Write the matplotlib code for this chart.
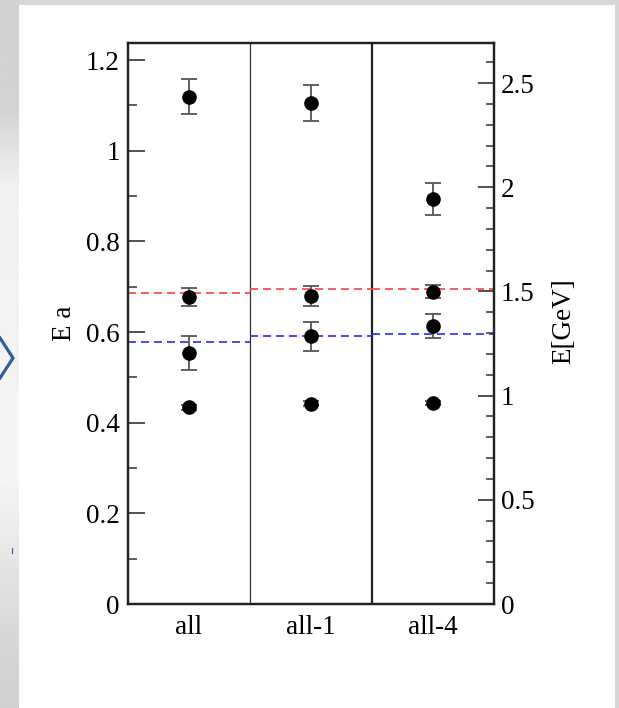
import numpy as np
import matplotlib
matplotlib.use("Agg")
import matplotlib.pyplot as plt
from matplotlib.lines import Line2D
from matplotlib.patches import Rectangle
from matplotlib.ticker import MultipleLocator

# ---------------- data ----------------
categories = ["all", "all-1", "all-4"]
cat_pos = [0.5, 1.5, 2.5]

level1 = [0.434, 0.442, 0.443]
level1_err = [0.005, 0.005, 0.005]
level2 = [0.554, 0.591, 0.613]
level2_err = [0.038, 0.032, 0.026]
level3 = [0.678, 0.679, 0.689]
level3_err = [0.020, 0.022, 0.015]
level4 = [1.119, 1.105, 0.893]
level4_err = [0.039, 0.040, 0.035]

red_ref = [0.687, 0.694, 0.696]
blue_ref = [0.578, 0.591, 0.596]

left_ticks = [0, 0.2, 0.4, 0.6, 0.8, 1.0, 1.2]
left_ticklabels = ["0", "0.2", "0.4", "0.6", "0.8", "1", "1.2"]
right_ticks = [0, 0.5, 1.0, 1.5, 2.0, 2.5]
right_ticklabels = ["0", "0.5", "1", "1.5", "2", "2.5"]

left_ylim = (0, 1.2376)
right_ylim = (0, 2.692)

# ---------------- figure ----------------
W, H = 619, 708
fig = plt.figure(figsize=(W / 100, H / 100), dpi=100)
fig.patch.set_facecolor("#d6d6d6")

# left gradient strip
bg = fig.add_axes([0, 0, 19 / W, 1], zorder=-10)
yy = np.linspace(0, H, 300)
vals = np.interp(yy, [0, 110, 190, 480, 560, 640, 708],
                 [0.82, 0.83, 0.95, 0.96, 0.90, 0.84, 0.82])
bg.imshow(vals[:, None], cmap="gray", vmin=0, vmax=1, aspect="auto",
          extent=[0, 1, 0, 1], origin="upper")
bg.set_axis_off()

# white panel
fig.patches.append(Rectangle((19 / W, 0), (615 - 19) / W, 1 - 5 / H,
                             transform=fig.transFigure, facecolor="white",
                             edgecolor="none", zorder=-5))

# chevron decoration
def px(x, y):
    return x / W, 1 - y / H

cx, cy = zip(px(0, 338), px(13, 358), px(0, 378))
fig.lines.append(Line2D(cx, cy, transform=fig.transFigure, color="#2f5e9e",
                        lw=2.3, solid_joinstyle="miter"))
mx, my = zip(px(12, 548), px(12, 553))
fig.lines.append(Line2D(mx, my, transform=fig.transFigure, color="#2f5e9e", lw=0.8))

plt.rcParams["font.family"] = ["Liberation Serif", "DejaVu Serif"]
fs = 19.5

ax = fig.add_axes([128 / W, 1 - 604 / H, 366 / W, 561 / H])
ax.set_facecolor("white")
ax.set_xlim(0, 3)
ax.set_ylim(*left_ylim)

# separators
ax.axvline(1, color="#333333", lw=0.9)
ax.axvline(2, color="#222222", lw=1.6)

# reference dashed lines
for i in range(3):
    ax.plot([i, i + 1], [red_ref[i]] * 2, color="#ff4040", lw=1.2,
            dashes=(4.8, 3))
    ax.plot([i, i + 1], [blue_ref[i]] * 2, color="#2a2aff", lw=1.2,
            dashes=(4.8, 3))

for vals_, errs in [(level1, level1_err), (level2, level2_err),
                    (level3, level3_err), (level4, level4_err)]:
    ax.errorbar(cat_pos, vals_, yerr=errs, fmt="o", color="black", ms=9.5,
                ecolor="#555555", elinewidth=1.3, capsize=5.8, capthick=1.3,
                zorder=5)

for s in ax.spines.values():
    s.set_linewidth(1.6)
    s.set_color("#222222")

ax.set_yticks(left_ticks)
ax.set_yticklabels(left_ticklabels, fontsize=fs)
ax.yaxis.set_minor_locator(MultipleLocator(0.1))
ax.tick_params(axis="y", which="major", direction="in", length=12, width=1.2,
               pad=6, left=True, right=False, color="#333333")
ax.tick_params(axis="y", which="minor", direction="in", length=6.5, width=1.1,
               left=True, right=False, color="#333333")
ax.set_xticks(cat_pos)
ax.set_xticklabels(categories, fontsize=fs)
ax.tick_params(axis="x", length=0, pad=8)
ax.set_ylabel("E a", fontsize=fs)
ax.yaxis.set_label_coords(-0.139, 0.50)

ax2 = ax.twinx()
ax2.set_ylim(*right_ylim)
ax2.set_yticks(right_ticks)
ax2.set_yticklabels(right_ticklabels, fontsize=fs)
ax2.yaxis.set_minor_locator(MultipleLocator(0.1))
ax2.tick_params(axis="y", which="major", direction="in", length=11.5, width=1.2,
                pad=5, color="#333333")
ax2.tick_params(axis="y", which="minor", direction="in", length=6, width=1.1,
                color="#333333")
for s in ax2.spines.values():
    s.set_linewidth(1.6)
    s.set_color("#222222")
ax2.set_ylabel("E[GeV]", fontsize=fs)
ax2.yaxis.set_label_coords(1.156, 0.505)

fig.savefig("out.png", dpi=100, facecolor=fig.get_facecolor())
